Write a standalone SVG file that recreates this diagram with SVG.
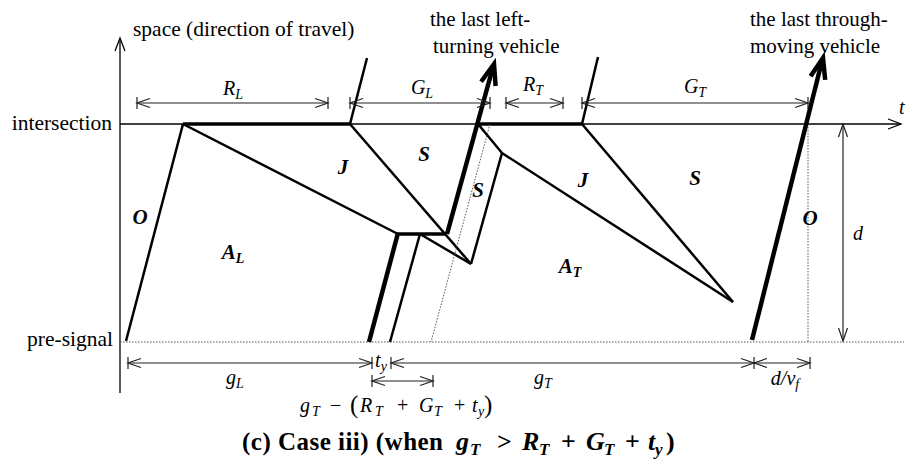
<svg xmlns="http://www.w3.org/2000/svg" width="908" height="467" viewBox="0 0 908 467">
<style>
text{font-family:"Liberation Serif","Times New Roman",serif;fill:#000}
.lbl{font-size:21.5px}
.vl{font-size:21px}
.m{font-size:20px;font-style:italic}
.n{font-style:normal}
.r{font-size:21px;font-style:italic;font-weight:bold;text-anchor:middle}
.sub{font-size:14px}
.ax{stroke:#000;stroke-width:1.3;fill:none}
.dim{stroke:#222;stroke-width:1.2;fill:none;marker-start:url(#da);marker-end:url(#da)}
.tick{stroke:#222;stroke-width:1.2}
.dot{stroke:#555;stroke-width:1;stroke-dasharray:1.5 1.5;fill:none}
.sw{stroke:#000;stroke-width:2.5;fill:none;stroke-linejoin:round}
.th{stroke:#000;stroke-width:3.5;fill:none}
.veh{stroke:#000;stroke-width:4.5;fill:none;stroke-linejoin:miter}
</style>
<defs>
<marker id="da" viewBox="0 0 16 12" refX="15" refY="6" markerWidth="16" markerHeight="12" markerUnits="userSpaceOnUse" orient="auto-start-reverse" overflow="visible">
<path d="M2,1.5 L15,6 L2,10.5" fill="none" stroke="#222" stroke-width="1.2"/>
</marker>
<marker id="xa" viewBox="0 0 16 12" refX="15" refY="6" markerWidth="16" markerHeight="12" markerUnits="userSpaceOnUse" orient="auto" overflow="visible">
<path d="M2,1 L15,6 L2,11" fill="none" stroke="#000" stroke-width="1.3"/>
</marker>
</defs>

<g id="axes">
<line class="ax" x1="120" y1="393" x2="120" y2="38" marker-end="url(#xa)"/>
<line class="ax" x1="120" y1="124" x2="901" y2="124" marker-end="url(#xa)"/>
<line class="dot" x1="120" y1="342" x2="904" y2="342"/>
<text class="lbl" x="133" y="36">space (direction of travel)</text>
<text class="lbl" x="112" y="130" text-anchor="end">intersection</text>
<text class="lbl" x="113" y="346" text-anchor="end">pre-signal</text>
<text class="m" x="899" y="114" font-size="21">t</text>
</g>

<g id="connectors">
<line class="sw" x1="126" y1="341" x2="183" y2="124"/>
<line class="th" x1="183" y1="124" x2="350" y2="124"/>
<line class="sw" x1="183" y1="124" x2="398" y2="234"/>
<line class="sw" x1="350" y1="124" x2="471" y2="264"/>
<line class="sw" x1="350" y1="124" x2="367" y2="58"/>
<line class="th" x1="397" y1="234" x2="446" y2="234"/>
<line class="veh" x1="369" y1="342" x2="398" y2="233"/>
<line class="sw" x1="390" y1="342" x2="420" y2="234"/>
<line class="sw" x1="420" y1="234" x2="471" y2="264"/>
<line class="sw" x1="471" y1="264" x2="502" y2="153"/>
<line class="sw" x1="478" y1="124" x2="502" y2="153"/>
<line class="sw" x1="502" y1="153" x2="733" y2="302"/>
<line class="th" x1="478" y1="124" x2="582" y2="124"/>
<line class="sw" x1="582" y1="124" x2="598" y2="57"/>
<line class="sw" x1="582" y1="124" x2="733" y2="302"/>
<line class="dot" x1="490" y1="124" x2="431" y2="342"/>
<line class="dot" x1="808" y1="124" x2="808" y2="342"/>
<line class="veh" x1="447" y1="234" x2="493" y2="67"/>
<path class="veh" d="M481.1,81.8 L494,64 L495.6,86"/>
<line class="veh" x1="752" y1="340" x2="822" y2="61"/>
<path class="veh" d="M810.6,76.2 L823,58 L825.2,79.9"/>
</g>

<g id="vehicle-labels">
<text class="vl" x="430" y="26">the last left-</text>
<text class="vl" x="433" y="53">turning vehicle</text>
<text class="vl" x="750" y="26">the last through-</text>
<text class="vl" x="750" y="53">moving vehicle</text>
</g>

<g id="regions">
<text class="r" x="140" y="224">O</text>
<text class="r" x="343" y="174">J</text>
<text class="r" x="424" y="161">S</text>
<text class="r" x="233" y="259">A<tspan class="sub" dy="4">L</tspan></text>
<text class="r" x="478" y="197">S</text>
<text class="r" x="583" y="187">J</text>
<text class="r" x="695" y="185">S</text>
<text class="r" x="570" y="273">A<tspan class="sub" dy="4">T</tspan></text>
<text class="r" x="810" y="225">O</text>
</g>

<g id="dim-top">
<line class="dim" x1="137" y1="103" x2="328" y2="103"/>
<line class="dim" x1="350" y1="103" x2="490" y2="103"/>
<line class="dim" x1="506" y1="103" x2="563" y2="103"/>
<line class="dim" x1="582" y1="103" x2="808" y2="103"/>
<path class="tick" d="M137,97V109M328,97V109M350,97V109M490,97V109M506,97V109M563,97V109M582,97V109M808,97V109"/>
<text class="m" x="233" y="95" text-anchor="middle">R<tspan class="sub" dy="4">L</tspan></text>
<text class="m" x="422" y="94" text-anchor="middle">G<tspan class="sub" dy="4">L</tspan></text>
<text class="m" x="533" y="91" text-anchor="middle">R<tspan class="sub" dy="4">T</tspan></text>
<text class="m" x="695" y="93" text-anchor="middle">G<tspan class="sub" dy="4">T</tspan></text>
</g>

<g id="dim-d">
<line class="dim" x1="843" y1="124" x2="843" y2="341"/>
<text class="m" x="858" y="240" font-size="21" text-anchor="middle">d</text>
</g>

<g id="dim-bottom">
<line class="dim" x1="128" y1="363" x2="372" y2="363"/>
<line class="dim" x1="391" y1="363" x2="754" y2="363"/>
<line class="dim" x1="754" y1="363" x2="810" y2="363"/>
<line class="dim" x1="372" y1="381" x2="433" y2="381"/>
<path class="tick" d="M128,357V369M372,357V369M391,357V369M754,357V369M810,357V369M372,375V387M433,375V387"/>
<text class="m" x="235" y="384" font-size="21" text-anchor="middle">g<tspan class="sub" font-size="15" dy="4">L</tspan></text>
<text class="m" x="381" y="367" font-size="18" text-anchor="middle">t<tspan class="sub" font-size="13" dy="4">y</tspan></text>
<text class="m" x="543" y="384" font-size="21" text-anchor="middle">g<tspan class="sub" font-size="15" dy="4">T</tspan></text>
<text class="m" x="785" y="385" font-size="21" text-anchor="middle">d/v<tspan class="sub" font-size="15" dy="4">f</tspan></text>
<text class="m" y="412" font-size="21"><tspan x="300">g</tspan><tspan class="sub" font-size="15" x="312" dy="4">T</tspan><tspan class="n" x="330" dy="-4">−</tspan><tspan class="n" x="350" font-size="25" dy="1">(</tspan><tspan x="360" dy="-1">R</tspan><tspan class="sub" font-size="15" x="375" dy="4">T</tspan><tspan class="n" x="397" dy="-4">+</tspan><tspan x="419">G</tspan><tspan class="sub" font-size="15" x="434" dy="4">T</tspan><tspan class="n" x="454" dy="-4">+</tspan><tspan x="472">t</tspan><tspan class="sub" font-size="15" x="478" dy="4">y</tspan><tspan class="n" x="484" font-size="25" dy="-3">)</tspan></text>
</g>

<g id="title">
<text x="242" y="450" font-size="25" font-weight="bold" textLength="201" lengthAdjust="spacing">(c) Case iii) (when</text>
<text y="450" font-size="26" font-weight="bold" font-style="italic"><tspan x="456">g</tspan><tspan x="470" dy="5" font-size="17">T</tspan><tspan x="497" dy="-5" font-style="normal">&gt;</tspan><tspan x="522">R</tspan><tspan x="539" dy="5" font-size="17">T</tspan><tspan x="561" dy="-5" font-style="normal">+</tspan><tspan x="586">G</tspan><tspan x="604" dy="5" font-size="17">T</tspan><tspan x="625" dy="-5" font-style="normal">+</tspan><tspan x="648">t</tspan><tspan x="655" dy="5" font-size="17">y</tspan><tspan x="666" dy="-5" font-style="normal">)</tspan></text>
</g>
</svg>
